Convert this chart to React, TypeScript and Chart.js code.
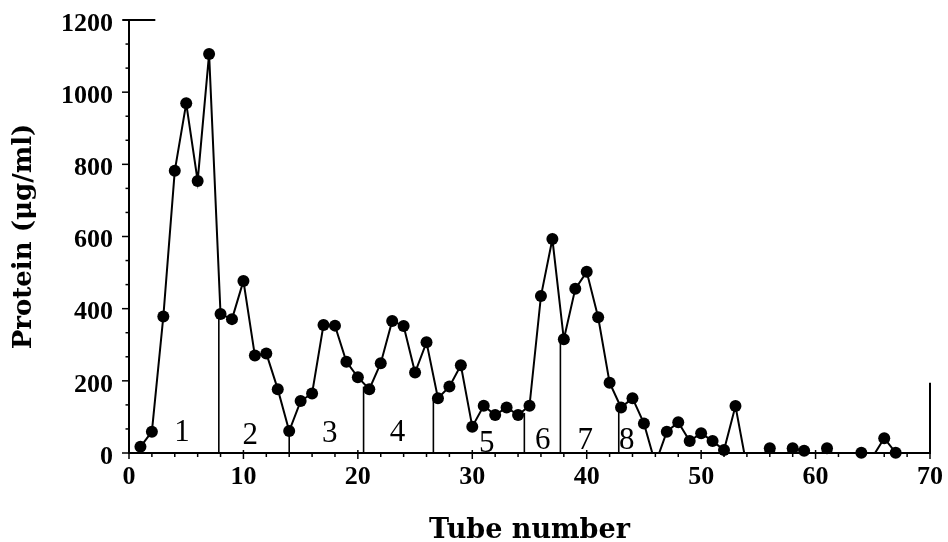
import React, { useEffect, useRef } from "react";
import { Chart, registerables } from "chart.js";

Chart.register(...registerables);

// Tube numbers and protein concentration (µg/ml); negative = below detection (no marker, line clipped at axis)
const tubes = [
  1, 2, 3, 4, 5, 6, 7, 8, 9, 10,
  11, 12, 13, 14, 15, 16, 17, 18, 19, 20,
  21, 22, 23, 24, 25, 26, 27, 28, 29, 30,
  31, 32, 33, 34, 35, 36, 37, 38, 39, 40,
  41, 42, 43, 44, 45, 46, 47, 48, 49, 50,
  51, 52, 53, 54, 55, 56, 57, 58, 59, 60,
  61, 62, 63, 64, 65, 66, 67,
];
const protein = [
  17, 59, 378, 782, 969, 754, 1106, 385, 371, 477,
  270, 276, 177, 61, 144, 165, 355, 353, 253, 210,
  177, 249, 366, 352, 223, 307, 152, 184, 243, 73,
  131, 105, 126, 105, 131, 435, 593, 315, 455, 502,
  376, 195, 126, 152, 82, -30, 59, 85, 33, 55,
  33, 8, 130, -40, -15, 13, -15, 13, 6, -15,
  13, -15, -15, 1, -10, 41, 1,
];

// Fraction boundaries (tube number) and the height each divider line reaches
const dividerTubes = [7.85, 14, 20.5, 26.6, 34.55, 37.7, 42.8];
const dividerHeights = [385, 61, 184, 156, 111, 322, 128];

// Fraction labels
const fractionLabels = ["1", "2", "3", "4", "5", "6", "7", "8"];
const fractionLabelTubes = [4.63, 10.6, 17.55, 23.46, 31.27, 36.16, 39.88, 43.49];
const fractionLabelLevels = [61, 55, 59, 62, 31, 39, 41, 41];

// Axis ticks
const xTickValues = [0, 10, 20, 30, 40, 50, 60, 70];
const yTickValues = [0, 200, 400, 600, 800, 1000, 1200];
const xMinorStep = 2;
const yMinorPerMajor = 3;

// Frame remnants: short top segment (to tube) and short right segment (to protein level)
const topFrameEndTube = 2.3;
const rightFrameTopLevel = 195;

const TICK_FONT = '"Liberation Serif", "Times New Roman", serif';
const TITLE_FONT = '"DejaVu Serif", serif';

const decorPlugin = {
  id: "decor",
  afterDatasetsDraw(chart: any) {
    const { ctx, chartArea, scales } = chart;
    const x = scales.x;
    const y = scales.y;
    const left = chartArea.left;
    const bottom = chartArea.bottom;
    ctx.save();
    ctx.strokeStyle = "#000";
    ctx.fillStyle = "#000";

    // divider lines
    ctx.lineWidth = 1.6;
    dividerTubes.forEach((t, i) => {
      const px = x.getPixelForValue(t);
      ctx.beginPath();
      ctx.moveTo(px, y.getPixelForValue(0));
      ctx.lineTo(px, y.getPixelForValue(dividerHeights[i]));
      ctx.stroke();
    });

    // frame remnants
    ctx.lineWidth = 2;
    const xr = x.getPixelForValue(70);
    ctx.beginPath();
    ctx.moveTo(xr, bottom);
    ctx.lineTo(xr, y.getPixelForValue(rightFrameTopLevel));
    ctx.stroke();
    const yt = y.getPixelForValue(1200);
    ctx.beginPath();
    ctx.moveTo(left - 6, yt);
    ctx.lineTo(x.getPixelForValue(topFrameEndTube), yt);
    ctx.stroke();

    // fraction labels
    ctx.font = '31px ' + TICK_FONT;
    ctx.textAlign = "center";
    ctx.textBaseline = "alphabetic";
    fractionLabels.forEach((s, i) => {
      ctx.fillText(
        s,
        x.getPixelForValue(fractionLabelTubes[i]),
        y.getPixelForValue(fractionLabelLevels[i]) + 10.5
      );
    });

    // x ticks
    ctx.lineWidth = 1.5;
    for (let v = 0; v <= 70 + 1e-6; v += xMinorStep) {
      const px = x.getPixelForValue(v);
      const major = xTickValues.includes(Math.round(v));
      ctx.beginPath();
      ctx.moveTo(px, bottom - (major ? 3 : 0));
      ctx.lineTo(px, bottom + (major ? 6 : 4));
      ctx.stroke();
    }
    // y ticks
    const n = (yTickValues.length - 1) * yMinorPerMajor;
    for (let k = 0; k <= n; k++) {
      const v = (k * 200) / yMinorPerMajor;
      const py = y.getPixelForValue(v);
      const major = k % yMinorPerMajor === 0;
      ctx.beginPath();
      ctx.moveTo(left - (major ? 7 : 3.5), py);
      ctx.lineTo(left, py);
      ctx.stroke();
    }
    ctx.restore();
  },
};

export default function App() {
  const ref = useRef<HTMLCanvasElement | null>(null);

  useEffect(() => {
    if (!ref.current) return;
    const all = tubes.map((t, i) => ({ x: t, y: protein[i] }));
    const visible = all.filter((p) => p.y >= 0);

    const chart = new Chart(ref.current, {
      type: "scatter",
      data: {
        datasets: [
          {
            data: all,
            showLine: true,
            borderColor: "#000",
            borderWidth: 2,
            pointRadius: 0,
            pointHoverRadius: 0,
            tension: 0,
            clip: { left: 10, top: 10, right: 10, bottom: 0 } as any,
          },
          {
            data: visible,
            showLine: false,
            pointRadius: 6,
            pointHoverRadius: 6,
            pointBackgroundColor: "#000",
            pointBorderWidth: 0,
            borderColor: "#000",
            clip: false as any,
          },
        ],
      },
      options: {
        responsive: false,
        animation: false,
        events: [],
        layout: { padding: { top: 20, right: 18, left: 0, bottom: 0 } },
        plugins: {
          legend: { display: false },
          tooltip: { enabled: false },
        },
        scales: {
          x: {
            type: "linear",
            min: 0,
            max: 70,
            grid: { display: false, drawTicks: false },
            border: { display: true, color: "#000", width: 2 },
            afterBuildTicks: (s: any) => {
              s.ticks = xTickValues.map((v) => ({ value: v }));
            },
            afterFit: (s: any) => {
              s.height = 89;
              s.paddingLeft = 0;
              s.paddingRight = 0;
              s.paddingTop = 0;
              s.paddingBottom = 0;
            },
            ticks: {
              color: "#000",
              padding: 9,
              maxRotation: 0,
              autoSkip: false,
              callback: (v: any) => String(v),
              font: { family: TICK_FONT, size: 26, weight: "bold" },
            },
            title: {
              display: true,
              text: "Tube number",
              color: "#000",
              padding: { top: 0, bottom: 0 },
              font: { family: TITLE_FONT, size: 27, weight: "bold", lineHeight: 0.8 },
            },
          },
          y: {
            type: "linear",
            min: 0,
            max: 1200,
            grid: { display: false, drawTicks: false },
            border: { display: true, color: "#000", width: 2 },
            afterBuildTicks: (s: any) => {
              s.ticks = yTickValues.map((v) => ({ value: v }));
            },
            afterFit: (s: any) => {
              s.width = 129;
              s.paddingLeft = 0;
              s.paddingRight = 0;
              s.paddingTop = 0;
              s.paddingBottom = 0;
            },
            ticks: {
              color: "#000",
              padding: 16,
              labelOffset: 4,
              autoSkip: false,
              callback: (v: any) => String(v),
              font: { family: TICK_FONT, size: 26, weight: "bold" },
            },
            title: {
              display: true,
              text: "Protein (\u03bcg/ml)",
              color: "#000",
              padding: { top: 9, bottom: 0 },
              font: { family: TITLE_FONT, size: 26, weight: "bold" },
            },
          },
        },
      },
      plugins: [decorPlugin],
    });
    return () => chart.destroy();
  }, []);

  return (
    <div
      style={{
        position: "fixed",
        left: 0,
        top: 0,
        width: 948,
        height: 542,
        background: "#fff",
      }}
    >
      <canvas ref={ref} width={948} height={542} style={{ display: "block" }} />
    </div>
  );
}
